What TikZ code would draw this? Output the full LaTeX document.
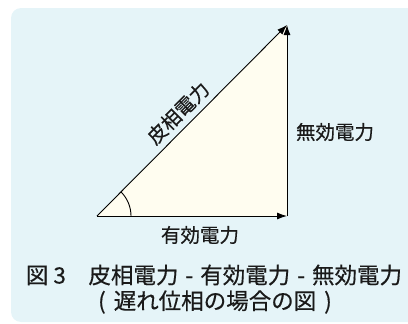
\documentclass[tikz,border=0pt]{standalone}
\usepackage{fontspec}
\setmainfont{Noto Sans CJK JP}[FakeBold=0.4]
\usetikzlibrary{arrows.meta}
\definecolor{bgc}{HTML}{E5F4F8}
\definecolor{trifill}{HTML}{FFFDF0}
\definecolor{txt}{HTML}{1A1A1A}
\tikzset{
  vec/.style={draw=black, line width=0.9pt, -{Latex[length=10pt,width=7pt]}},
  lbl/.style={text=txt, font=\fontsize{19.5}{21}\selectfont, inner sep=0pt},
  captext/.style={text=txt, font=\fontsize{22.5}{24}\selectfont, inner sep=0pt}
}
\begin{document}
\begin{tikzpicture}[x=1pt,y=-1pt]
\useasboundingbox (0,0) rectangle (408,324);
\fill[bgc, rounded corners=10pt] (11,8) rectangle (440,322);
\coordinate (O) at (97,216);
\coordinate (A) at (287,216);
\coordinate (B) at (287,25);
\fill[trifill] (O) -- (A) -- (B) -- cycle;
\draw[line width=0.9pt] (O) ++(34pt,0pt) arc[start angle=0, end angle=45, radius=34pt];
\draw[vec] (O) -- (A);
\draw[vec] (A) -- (B);
\draw[vec] (O) -- (B);
\node[lbl, rotate=45] (s) at (178,113) {皮相電力};
\node[lbl] (q) at (335,132) {無効電力};
\node[lbl] (p) at (200,235) {有効電力};
\node[captext] (c1) at (214,275) {図 3　皮相電力\hspace{7pt}-\hspace{7pt}有効電力\hspace{7pt}-\hspace{7pt}無効電力};
\node[captext] (c2) at (215,302) {(\hspace{8pt}遅れ位相の場合の図\hspace{8pt})};
\end{tikzpicture}
\end{document}
